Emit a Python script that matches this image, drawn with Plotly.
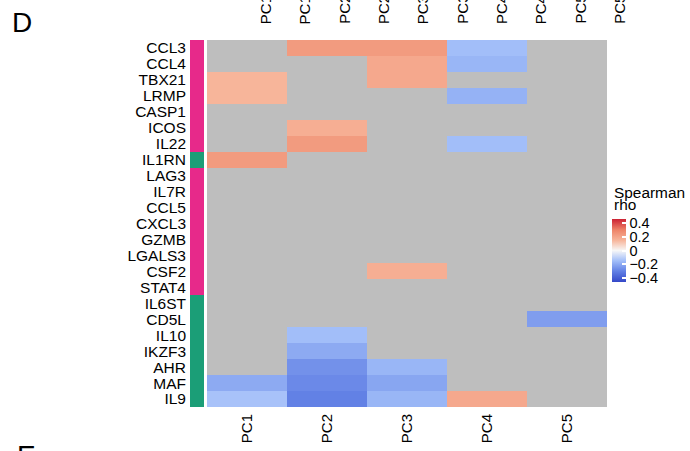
import numpy as np
import plotly.graph_objects as go

W, H = 690, 451
FONT = "Liberation Sans, Arial, sans-serif"
NA = np.nan

genes = ["CCL3", "CCL4", "TBX21", "LRMP", "CASP1", "ICOS", "IL22", "IL1RN",
         "LAG3", "IL7R", "CCL5", "CXCL3", "GZMB", "LGALS3", "CSF2", "STAT4",
         "IL6ST", "CD5L", "IL10", "IKZF3", "AHR", "MAF", "IL9"]
pcs = ["PC1", "PC2", "PC3", "PC4", "PC5"]
# gene group: 0 = pink, 1 = green
group = [0, 0, 0, 0, 0, 0, 0, 1,
         0, 0, 0, 0, 0, 0, 0, 0,
         1, 1, 1, 1, 1, 1, 1]

rho = [
    [NA, 0.23, 0.23, -0.15, NA],
    [NA, NA, 0.19, -0.17, NA],
    [0.15, NA, 0.19, NA, NA],
    [0.15, NA, NA, -0.18, NA],
    [NA, NA, NA, NA, NA],
    [NA, 0.17, NA, NA, NA],
    [NA, 0.23, NA, -0.15, NA],
    [0.23, NA, NA, NA, NA],
    [NA, NA, NA, NA, NA],
    [NA, NA, NA, NA, NA],
    [NA, NA, NA, NA, NA],
    [NA, NA, NA, NA, NA],
    [NA, NA, NA, NA, NA],
    [NA, NA, NA, NA, NA],
    [NA, NA, 0.17, NA, NA],
    [NA, NA, NA, NA, NA],
    [NA, NA, NA, NA, NA],
    [NA, NA, NA, NA, -0.23],
    [NA, -0.15, NA, NA, NA],
    [NA, -0.20, NA, NA, NA],
    [NA, -0.26, -0.17, NA, NA],
    [-0.20, -0.28, -0.21, NA, NA],
    [-0.14, -0.30, -0.17, 0.19, NA],
]

# labels of the panel above, cut off by the top edge
top_labels = ["PC1", "PC1", "PC2", "PC2", "PC3", "PC3", "PC4", "PC4", "PC5", "PC5"]

ZMIN, ZMAX = -0.46, 0.46
stops = [(-0.46, "#3448c8"), (-0.30, "#6281e5"), (-0.15, "#a2bef9"),
         (0.0, "#f7f7f7"), (0.15, "#f7b59a"), (0.30, "#ee8468"), (0.46, "#cc2233")]
colorscale = [[(v - ZMIN) / (ZMAX - ZMIN), c] for v, c in stops]


def px_x(p):
    return p / W


def px_y(p):
    return 1 - p / H


fig = go.Figure()

fig.add_trace(go.Heatmap(
    z=rho, x=pcs, y=genes,
    zmin=ZMIN, zmax=ZMAX, colorscale=colorscale,
    xaxis="x", yaxis="y",
    colorbar=dict(
        x=px_x(612), xanchor="left", xpad=0,
        y=px_y(219), yanchor="top", ypad=0,
        lenmode="pixels", len=63, thickness=14,
        outlinewidth=0,
        tickvals=[-0.4, -0.2, 0, 0.2, 0.4],
        ticktext=["\u22120.4", "\u22120.2", "0", "0.2", "0.4"],
        ticks="inside", ticklen=4, tickcolor="white", tickwidth=1.5,
        tickfont=dict(family=FONT, size=14.5, color="black"),
    ),
    hoverongaps=False,
))

fig.add_trace(go.Heatmap(
    z=[[g] for g in group], x=["group"], y=genes,
    zmin=0, zmax=1,
    colorscale=[[0, "#e7298a"], [0.5, "#e7298a"], [0.5, "#1b9e77"], [1, "#1b9e77"]],
    showscale=False, xaxis="x2", yaxis="y2",
))

fig.update_layout(
    width=W, height=H,
    margin=dict(l=0, r=0, t=0, b=0),
    paper_bgcolor="white",
    plot_bgcolor="#bebebe",
    font=dict(family=FONT, color="black"),
    xaxis=dict(domain=[px_x(207), px_x(607)], anchor="y",
               tickangle=-90, ticks="", showgrid=False, zeroline=False,
               tickfont=dict(size=15), ticklabelstandoff=3),
    yaxis=dict(domain=[px_y(407), px_y(40)], anchor="x",
               autorange="reversed", showticklabels=False, ticks="",
               showgrid=False, zeroline=False),
    xaxis2=dict(domain=[px_x(190), px_x(204)], anchor="y2",
                showticklabels=False, ticks="", showgrid=False, zeroline=False),
    yaxis2=dict(domain=[px_y(407), px_y(40)], anchor="x2",
                autorange="reversed", ticks="", showgrid=False, zeroline=False,
                tickmode="array", tickvals=genes, ticktext=genes,
                tickfont=dict(size=15.5), ticklabelstandoff=3),
)

# top labels: evenly spaced between 246 px and 639 px
left, right = 246, 639
step = (right - left) / len(top_labels)
for i, lab in enumerate(top_labels):
    fig.add_annotation(x=px_x(left + step * (i + 0.5)), xref="paper",
                       y=px_y(26), yref="paper",
                       text=lab, textangle=-90, showarrow=False,
                       xanchor="center", yanchor="bottom",
                       font=dict(size=15))

fig.add_annotation(x=px_x(612), y=px_y(182), xref="paper", yref="paper",
                   text="Spearman", showarrow=False, xanchor="left", yanchor="top",
                   font=dict(size=15.4))
fig.add_annotation(x=px_x(612), y=px_y(194), xref="paper", yref="paper",
                   text="rho", showarrow=False, xanchor="left", yanchor="top",
                   font=dict(size=15.4))

fig.add_annotation(x=px_x(10), y=px_y(5), xref="paper", yref="paper",
                   text="D", showarrow=False, xanchor="left", yanchor="top",
                   font=dict(size=28))
fig.add_annotation(x=px_x(15), y=px_y(438), xref="paper", yref="paper",
                   text="E", showarrow=False, xanchor="left", yanchor="top",
                   font=dict(size=28))

fig.write_html("out.html", config={"displayModeBar": False},
               post_script="document.body.style.margin='0';")
